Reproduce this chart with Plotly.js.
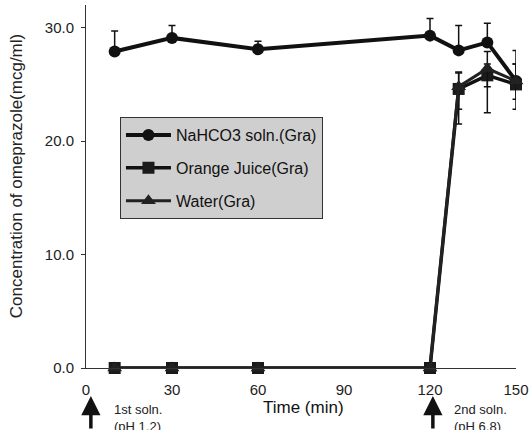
<!DOCTYPE html>
<html>
<head>
<meta charset="utf-8">
<script src="https://cdn.plot.ly/plotly-3.0.1.min.js"></script>
<style>
html,body{margin:0;padding:0;background:#fff;}
#chart{width:530px;height:430px;}
</style>
</head>
<body>
<div id="chart"></div>
<script>
// ---- data ----
var time = [10, 30, 60, 120, 130, 140, 150];
var nahco3 = [27.9, 29.1, 28.1, 29.3, 28.0, 28.7, 25.3];
var nahco3ErrUp = [1.8, 1.1, 0.7, 1.5, 2.2, 1.7, 2.7];
var nahco3ErrDown = [0, 0, 0, 0, 0, 0, 0];
var orangeJuice = [0, 0, 0, 0, 24.6, 25.8, 25.0];
var ojErrUp = [0, 0, 0, 0, 1.5, 1.0, 1.8];
var ojErrDown = [0, 0, 0, 0, 3.1, 1.0, 2.2];
var water = [0, 0, 0, 0, 24.8, 26.4, 25.3];
var waterErrUp = [0, 0, 0, 0, 1.2, 1.5, 1.5];
var waterErrDown = [0, 0, 0, 0, 2.0, 3.9, 1.6];
var seriesNames = ["NaHCO3 soln.(Gra)", "Orange Juice(Gra)", "Water(Gra)"];
var xTicks = [0, 30, 60, 90, 120, 150];
var xTickText = ["0", "30", "60", "90", "120", "150"];
var yTicks = [0, 10, 20, 30];
var yTickText = ["0.0", "10.0", "20.0", "30.0"];
var yTitle = "Concentration of omeprazole(mcg/ml)";
var xTitle = "Time (min)";
var firstSoln = "1st soln.<br>(pH 1.2)";
var secondSoln = "2nd soln.<br>(pH 6.8)";
var firstSolnTime = 1.7;
var secondSolnTime = 121;

var ink = "#111";
function errs(up, down) {
  return {type: "data", symmetric: false, array: up, arrayminus: down,
          color: ink, thickness: 1.5, width: 3.5};
}

var traces = [
  {x: time, y: nahco3, name: seriesNames[0], legendgroup: "a", mode: "lines+markers",
   line: {color: ink, width: 4},
   marker: {symbol: "circle", size: 12, color: ink},
   error_y: errs(nahco3ErrUp, nahco3ErrDown), cliponaxis: false},
  {x: time, y: orangeJuice, name: seriesNames[1], legendgroup: "b", mode: "lines+markers",
   line: {color: ink, width: 3.5},
   marker: {symbol: "square", size: 12, color: "#1a1a1a"},
   error_y: errs(ojErrUp, ojErrDown), cliponaxis: false},
  {x: time, y: water, name: seriesNames[2], legendgroup: "c", mode: "lines+markers",
   line: {color: "#222", width: 3},
   marker: {symbol: "triangle-up", size: 13, color: "#222"},
   error_y: errs(waterErrUp, waterErrDown), cliponaxis: false}
];

var font = "Liberation Sans, Arial, sans-serif";
var layout = {
  width: 530, height: 430,
  margin: {l: 86, r: 14, t: 5, b: 62},
  paper_bgcolor: "#fff", plot_bgcolor: "#fff",
  font: {family: font, color: "#222"},
  showlegend: true,
  legend: {
    x: 0.079, y: 0.691, xanchor: "left", yanchor: "top",
    bgcolor: "#cfcfcf", bordercolor: "#333", borderwidth: 1,
    traceorder: "grouped", tracegroupgap: 9, itemwidth: 45,
    font: {family: font, size: 16, color: "#111"}
  },
  xaxis: {
    range: [0, 150], tickvals: xTicks, ticktext: xTickText,
    showline: true, linecolor: "#333", linewidth: 1, mirror: false,
    showgrid: false, zeroline: false, ticks: "",
    ticklabelstandoff: 8,
    tickfont: {family: font, size: 15, color: "#222"}
  },
  yaxis: {
    range: [0, 32], tickvals: yTicks, ticktext: yTickText,
    showline: true, linecolor: "#333", linewidth: 1,
    showgrid: false, zeroline: false, ticks: "outside", ticklen: 4, tickcolor: "#333",
    ticklabelstandoff: 4,
    tickfont: {family: font, size: 15, color: "#222"}
  },
  annotations: [
    {text: yTitle, xref: "paper", yref: "paper", x: -0.16, y: 0.529,
     xanchor: "center", yanchor: "middle", textangle: -90, showarrow: false,
     font: {family: font, size: 17, color: "#222"}},
    {text: xTitle, xref: "x", yref: "paper", x: 76, y: -0.11,
     xanchor: "center", yanchor: "middle", showarrow: false,
     font: {family: font, size: 17, color: "#111"}},
    {text: "", xref: "x", yref: "paper", x: firstSolnTime, y: -0.0771,
     ax: 0, ay: 45, showarrow: true, arrowhead: 2, arrowsize: 1.1, arrowwidth: 3.5,
     arrowcolor: ink, standoff: 0},
    {text: "", xref: "x", yref: "paper", x: secondSolnTime, y: -0.0771,
     ax: 0, ay: 45, showarrow: true, arrowhead: 2, arrowsize: 1.1, arrowwidth: 3.5,
     arrowcolor: ink, standoff: 0},
    {text: firstSoln, xref: "x", yref: "paper", x: 9.0, y: -0.088,
     xanchor: "left", yanchor: "top", align: "left", showarrow: false,
     font: {family: font, size: 13, color: "#222"}},
    {text: secondSoln, xref: "x", yref: "paper", x: 127.6, y: -0.088,
     xanchor: "left", yanchor: "top", align: "left", showarrow: false,
     font: {family: font, size: 13, color: "#222"}}
  ]
};

Plotly.newPlot("chart", traces, layout, {displayModeBar: false, staticPlot: true});
</script>
</body>
</html>
